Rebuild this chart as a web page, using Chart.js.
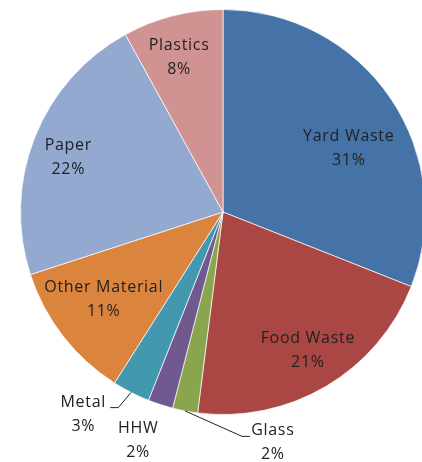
<!DOCTYPE html>
<html>
<head>
<meta charset="utf-8">
<script src="https://cdn.jsdelivr.net/npm/chart.js@4/dist/chart.umd.min.js"></script>
<style>
  html, body { margin: 0; padding: 0; background: #fff; overflow: hidden; }
  #wrap { width: 432px; height: 462px; }
</style>
</head>
<body>
<div id="wrap"><canvas id="chart"></canvas></div>
<script>
// waste composition, percent
var categories = ["Yard Waste", "Food Waste", "Glass", "HHW", "Metal", "Other Material", "Paper", "Plastics"];
var shares = [31, 21, 2, 2, 3, 11, 22, 8];
var colors = ["#4572A7", "#AA4643", "#89A54E", "#71588F", "#4198AF", "#DB843D", "#93A9CF", "#D19392"];

// label anchors as fractions of the radius, relative to the pie centre
var labelSpots = [
    [0.621, -0.315], [0.419, 0.685], [0.246, 1.138], [-0.419, 1.126],
    [-0.690, 1.002], [-0.589, 0.433], [-0.764, -0.271], [-0.217, -0.761]
];
// leader lines: elbow and end point (radius fractions), null = no line
var leaders = [null, null, [[0.094, 1.108], [0.133, 1.108]], null,
    [[-0.517, 0.966], [-0.557, 0.966]], null, null, null];

var pieLabels = {
    id: 'pieLabels',
    afterDatasetsDraw: function(chart) {
        var ctx = chart.ctx;
        var meta = chart.getDatasetMeta(0);
        ctx.save();
        ctx.font = '16px "Open Sans"';
        ctx.letterSpacing = '0.7px';
        ctx.fillStyle = '#222';
        ctx.strokeStyle = '#222';
        ctx.lineWidth = 1;
        ctx.textAlign = 'center';
        ctx.textBaseline = 'middle';
        meta.data.forEach(function(arc, i) {
            var cx = arc.x, cy = arc.y, r = arc.outerRadius;
            var ld = leaders[i];
            if (ld) {
                var mid = (arc.startAngle + arc.endAngle) / 2;
                ctx.beginPath();
                ctx.moveTo(cx + Math.cos(mid) * r, cy + Math.sin(mid) * r);
                ctx.lineTo(cx + ld[0][0] * r, cy + ld[0][1] * r);
                ctx.lineTo(cx + ld[1][0] * r, cy + ld[1][1] * r);
                ctx.stroke();
            }
            var lx = cx + labelSpots[i][0] * r;
            var ly = cy + labelSpots[i][1] * r;
            ctx.fillText(categories[i], lx, ly - 12);
            ctx.fillText(shares[i] + '%', lx, ly + 12);
        });
        ctx.restore();
    }
};

new Chart(document.getElementById('chart'), {
    type: 'pie',
    data: {
        labels: categories,
        datasets: [{
            data: shares,
            backgroundColor: colors,
            borderColor: 'rgba(255,255,255,0.7)',
            borderWidth: 1
        }]
    },
    options: {
        responsive: true,
        maintainAspectRatio: false,
        animation: false,
        layout: { padding: { left: 20, top: 9, right: 6, bottom: 47 } },
        plugins: {
            legend: { display: false },
            tooltip: { enabled: false }
        }
    },
    plugins: [pieLabels]
});
</script>
</body>
</html>
